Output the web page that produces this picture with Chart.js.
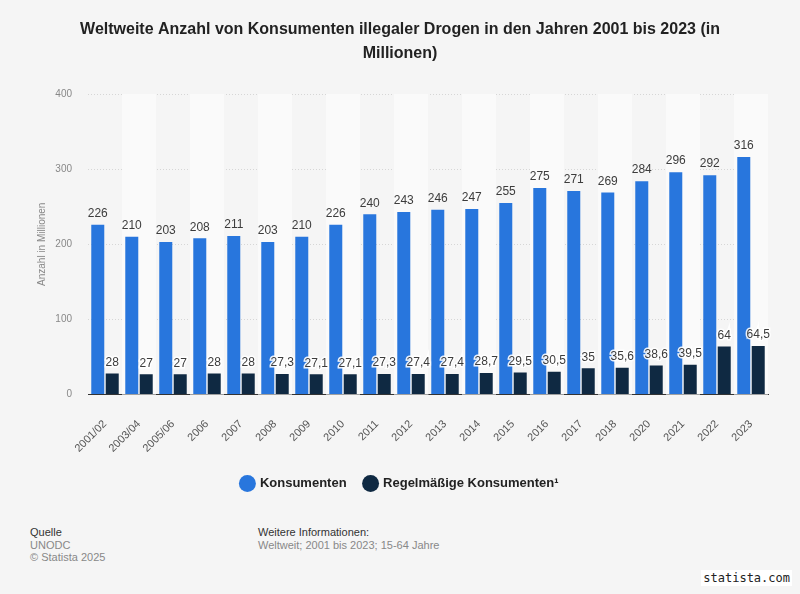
<!DOCTYPE html>
<html>
<head>
<meta charset="utf-8">
<script src="https://cdn.jsdelivr.net/npm/chart.js@4"></script>
<style>
  body { margin: 0; background: #f5f5f5; font-family: "Liberation Sans", Arial, sans-serif; }
  #wrap { position: relative; width: 800px; height: 594px; background: #f5f5f5; }
  #box { position: absolute; left: 0; top: 0; width: 800px; height: 500px; }
  .foot { position: absolute; font-size: 11px; line-height: 13px; }
  .dark { color: #333; }
  .grey { color: #888; }
  #logo { position: absolute; right: 8px; top: 570px; background: #fff; font-family: "DejaVu Sans Mono", monospace; font-size: 12px; padding: 1px 2px; color: #222; }
</style>
</head>
<body>
<div id="wrap">
  <div id="box"><canvas id="grafico"></canvas></div>
  <div class="foot dark" style="left:30px; top:526px;">Quelle</div>
  <div class="foot grey" style="left:30px; top:539px;">UNODC</div>
  <div class="foot grey" style="left:30px; top:551px;">© Statista 2025</div>
  <div class="foot dark" style="left:258px; top:526px;">Weitere Informationen:</div>
  <div class="foot grey" style="left:258px; top:539px;">Weltweit; 2001 bis 2023; 15-64 Jahre</div>
  <div id="logo">statista.com</div>
</div>
<script>
const jahre = ['2001/02', '2003/04', '2005/06', '2006', '2007', '2008', '2009', '2010', '2011', '2012',
    '2013', '2014', '2015', '2016', '2017', '2018', '2020', '2021', '2022', '2023'];
const konsumenten = [226, 210, 203, 208, 211, 203, 210, 226, 240, 243, 246, 247, 255, 275, 271, 269, 284, 296, 292, 316];
const regelmaessige = [28, 27, 27, 28, 28, 27.3, 27.1, 27.1, 27.3, 27.4, 27.4, 28.7, 29.5, 30.5, 35, 35.6, 38.6, 39.5, 64, 64.5];
const yTicks = [0, 100, 200, 300, 400];
const yTitel = 'Anzahl in Millionen';

const fontName = '"Liberation Sans", Arial, sans-serif';

// abwechselnde Hintergrundstreifen pro Kategorie
const streifen = {
    id: 'streifen',
    beforeDatasetsDraw(chart) {
        const { ctx, chartArea, scales } = chart;
        const x = scales.x;
        const w = (chartArea.right - chartArea.left) / jahre.length;
        ctx.save();
        ctx.fillStyle = '#fafafa';
        jahre.forEach((j, i) => {
            if (i % 2 === 1) {
                const cx = x.getPixelForValue(i);
                ctx.fillRect(cx - w / 2, chartArea.top, w, chartArea.bottom - chartArea.top);
            }
        });
        ctx.restore();
    }
};

// Achsentitel links, selbst gezeichnet
const achsenTitel = {
    id: 'achsenTitel',
    afterDraw(chart) {
        const { ctx, chartArea } = chart;
        ctx.save();
        ctx.translate(42, (chartArea.top + chartArea.bottom) / 2);
        ctx.rotate(-Math.PI / 2);
        ctx.font = '10px ' + fontName;
        ctx.fillStyle = '#888';
        ctx.textAlign = 'center';
        ctx.textBaseline = 'middle';
        ctx.fillText(yTitel, 0, 0);
        ctx.restore();
    }
};

const werte = {
    id: 'werte',
    afterDatasetsDraw(chart) {
        const { ctx } = chart;
        ctx.save();
        ctx.font = '12px ' + fontName;
        ctx.textAlign = 'center';
        ctx.textBaseline = 'bottom';
        chart.data.datasets.forEach((ds, di) => {
            chart.getDatasetMeta(di).data.forEach((bar, i) => {
                const txt = String(ds.data[i]).replace('.', ',');
                const y = bar.y - 5;
                if (di === 1) {
                    ctx.lineWidth = 3;
                    ctx.strokeStyle = 'rgba(255,255,255,0.9)';
                    ctx.strokeText(txt, bar.x, y);
                }
                ctx.fillStyle = '#3c3c3c';
                ctx.fillText(txt, bar.x, y);
            });
        });
        ctx.restore();
    }
};

new Chart(document.getElementById('grafico'), {
    type: 'bar',
    data: {
        labels: jahre,
        datasets: [
            { label: 'Konsumenten', data: konsumenten, backgroundColor: '#2876dd' },
            { label: 'Regelmäßige Konsumenten¹', data: regelmaessige, backgroundColor: '#0f2942' }
        ]
    },
    options: {
        responsive: true,
        maintainAspectRatio: false,
        animation: false,
        categoryPercentage: 0.85,
        barPercentage: 0.9,
        layout: { padding: { left: 32, right: 32, top: 0, bottom: 0 } },
        plugins: {
            title: {
                display: true,
                text: ['Weltweite Anzahl von Konsumenten illegaler Drogen in den Jahren 2001 bis 2023 (in', 'Millionen)'],
                color: '#222',
                font: { family: fontName, size: 16, weight: 'bold', lineHeight: 1.5 },
                padding: { top: 18, bottom: 28 }
            },
            legend: {
                position: 'bottom',
                labels: {
                    usePointStyle: true,
                    pointStyle: 'circle',
                    boxWidth: 12,
                    boxHeight: 12,
                    padding: 18,
                    color: '#222',
                    font: { family: fontName, size: 13, weight: 'bold' }
                }
            },
            tooltip: { enabled: false }
        },
        scales: {
            x: {
                grid: { display: false },
                border: { color: '#333', width: 1 },
                afterFit(axis) {
                    axis.height -= 11;
                    axis.paddingLeft = 0;
                },
                ticks: {
                    color: '#555',
                    padding: 15,
                    maxRotation: 45,
                    minRotation: 45,
                    font: { family: fontName, size: 11 }
                }
            },
            y: {
                min: 0,
                max: 400,
                afterBuildTicks(axis) { axis.ticks = yTicks.map(v => ({ value: v })); },
                afterFit(axis) { axis.width = 56; },
                grid: { color: '#d6d6d6', drawTicks: false },
                border: { display: false, dash: [1, 2] },
                ticks: { color: '#888', padding: 16, font: { family: fontName, size: 10 } }
            }
        }
    },
    plugins: [streifen, achsenTitel, werte]
});
</script>
</body>
</html>
